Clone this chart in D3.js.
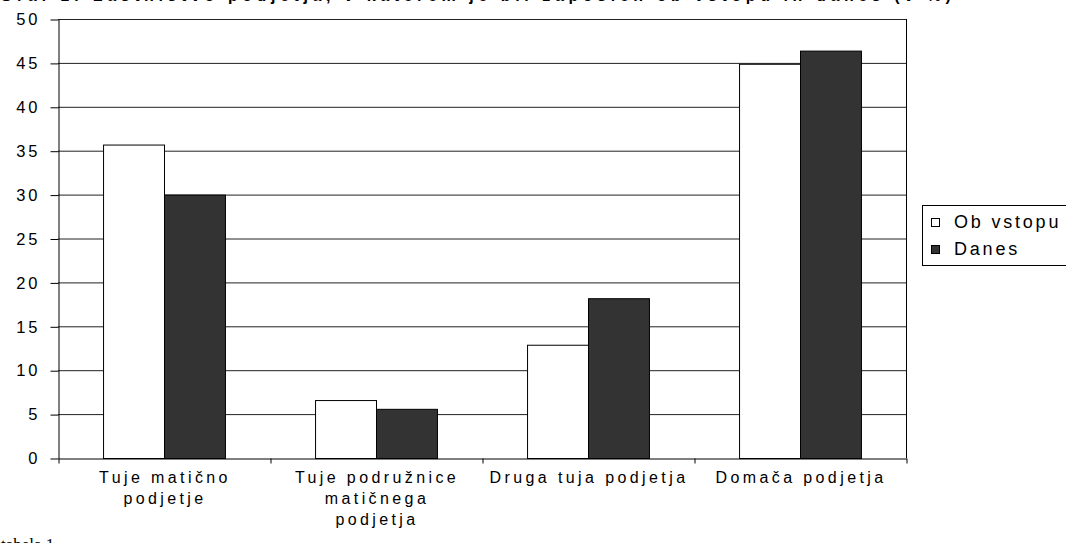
<!DOCTYPE html>
<html><head><meta charset="utf-8">
<script src="https://cdn.jsdelivr.net/npm/d3@7"></script>
<style>body{margin:0;background:#fff;}svg{display:block;}</style>
</head><body>
<svg id="c" width="1066" height="543"></svg>
<script>
const categories = [["Tuje matično","podjetje"],["Tuje podružnice","matičnega","podjetja"],["Druga tuja podjetja"],["Domača podjetja"]];
const seriesNames = ["Ob vstopu","Danes"];
const obVstopu = [35.7, 6.6, 12.9, 44.9];
const danes = [30.0, 5.6, 18.2, 46.4];
const yTicks = [0,5,10,15,20,25,30,35,40,45,50];
const colors = ["#ffffff","#333333"];

const svg = d3.select("#c");
const m = {l:58, r:906, t:19, b:458};
const font = "Liberation Sans, Arial, sans-serif";

// cropped title (reference shows only its lower edge)
svg.append("text").attr("x",0).attr("y",1).attr("font-family",font).attr("font-weight","bold")
  .attr("font-size",16).attr("letter-spacing",4.6)
  .text("Graf 1: Lastništvo podjetja, v katerem je bil zaposlen ob vstopu in danes (v %)");

const x0 = d3.scaleBand().domain(d3.range(categories.length)).range([m.l,m.r]).paddingInner(0).paddingOuter(0);
const bw = x0.bandwidth();
const x1 = d3.scaleBand().domain([0,1]).range([bw*0.2125, bw*0.7875]).padding(0);
const y = d3.scaleLinear().domain([0,50]).range([m.b,m.t]);

// gridlines
svg.append("g").selectAll("line").data(yTicks.filter(d=>d>0)).join("line")
  .attr("x1",m.l).attr("x2",m.r).attr("y1",d=>y(d)+0.5).attr("y2",d=>y(d)+0.5)
  .attr("stroke","#222").attr("stroke-width",1);
// right border
svg.append("line").attr("x1",m.r+0.5).attr("x2",m.r+0.5).attr("y1",m.t).attr("y2",m.b).attr("stroke","#000");

const data = categories.map((c,i)=>[obVstopu[i],danes[i]]);
const g = svg.append("g").selectAll("g").data(data).join("g").attr("transform",(d,i)=>`translate(${x0(i)},0)`);
g.selectAll("rect").data(d=>d).join("rect")
  .attr("x",(d,j)=>x1(j)+0.5).attr("width",x1.bandwidth())
  .attr("y",d=>y(d)+0.5).attr("height",d=>m.b-y(d))
  .attr("fill",(d,j)=>colors[j]).attr("stroke","#000").attr("stroke-width",1);

// y axis
const ya = svg.append("g").attr("transform",`translate(${m.l+0.5},0.5)`)
  .call(d3.axisLeft(y).tickValues(yTicks).tickSize(8).tickPadding(10).tickSizeOuter(0));
ya.select(".domain").attr("stroke","#000");
ya.selectAll("text").attr("font-family",font).attr("font-size",16.5).attr("letter-spacing",3).attr("fill","#000");

// x axis
const xa = svg.append("g").attr("transform",`translate(0,${m.b+0.5})`)
  .call(d3.axisBottom(d3.scaleLinear().domain([0,4]).range([m.l+0.5,m.r+0.5])).tickValues([0,1,2,3,4]).tickSize(5).tickFormat("").tickSizeOuter(0));
xa.select(".domain").attr("stroke","#000");

const lab = svg.append("g").selectAll("text").data(categories).join("text")
  .attr("font-family",font).attr("font-size",16).attr("letter-spacing",3.4).attr("text-anchor","middle")
  .attr("x",(d,i)=>x0(i)+x0.bandwidth()/2+1).attr("y",483);
lab.selectAll("tspan").data(d=>d).join("tspan")
  .attr("x",function(){return this.parentNode.getAttribute("x");})
  .attr("dy",(d,k)=>k===0?0:21).text(d=>d);

// legend
const lg = svg.append("g");
lg.append("rect").attr("x",922.5).attr("y",205.5).attr("width",150).attr("height",60).attr("fill","#fff").attr("stroke","#000");
seriesNames.forEach((s,i)=>{
  lg.append("rect").attr("x",931.5).attr("y",218.5+i*27).attr("width",8).attr("height",8).attr("fill",colors[i]).attr("stroke","#000");
  lg.append("text").attr("x",954).attr("y",228+i*27).attr("font-family",font).attr("font-size",18).attr("letter-spacing",2.8).text(s);
});

// cropped footer
svg.append("text").attr("x",1).attr("y",550).attr("font-family","Liberation Serif, Times New Roman, serif").attr("font-size",17).text("tabela 1");
</script>
</body></html>
